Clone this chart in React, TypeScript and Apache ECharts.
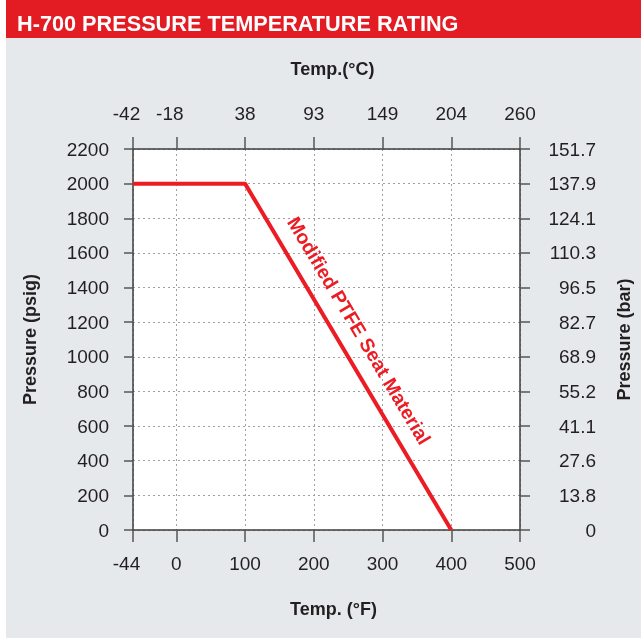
import React, { useEffect, useRef } from 'react';
import * as echarts from 'echarts';

// ---- data ----
const tempTicksF = [-44, 0, 100, 200, 300, 400, 500];
const tempLabelsF = ['-44', '0', '100', '200', '300', '400', '500'];
const tempLabelsC = ['-42', '-18', '38', '93', '149', '204', '260'];
const pressureMin = 0;
const pressureMax = 2200;
const pressureStep = 200;
const barLabels = ['0', '13.8', '27.6', '41.1', '55.2', '68.9', '82.7', '96.5', '110.3', '124.1', '137.9', '151.7'];
const seriesTempF = [-44, 100, 400];
const seriesPsig = [2000, 2000, 0];
const seriesName = 'Modified PTFE Seat Material';
const titleText = 'H-700 PRESSURE TEMPERATURE RATING';

// the range below 0°F is drawn stretched: -44°F sits at axis position -63
const AXIS_EDGE = -63;
const toAxis = (f: number) => (f < 0 ? (f * AXIS_EDGE) / tempTicksF[0] : f);
const tickPositions = tempTicksF.map(toAxis);
const idxOf = (v: number) => tickPositions.findIndex((p) => Math.abs(p - v) < 1e-6);

const FONT = '"Liberation Sans", Arial, Helvetica, sans-serif';
const TXT = '#231f20';
const RED = '#ec1c24';

const richNeg = {
  n: { fontFamily: FONT, fontSize: 19, color: TXT, padding: [0, 13, 0, 0] },
  p: { fontFamily: FONT, fontSize: 19, color: TXT },
};

export default function App() {
  const ref = useRef<HTMLDivElement>(null);
  useEffect(() => {
    if (!ref.current) return;
    const chart = echarts.init(ref.current, null, { renderer: 'svg' });
    const fmt = (labels: string[]) => (v: number) => {
      const i = idxOf(v);
      if (i < 0) return '';
      const s = labels[i];
      return s.startsWith('-') ? `{n|${s}}` : `{p|${s}}`;
    };
    const axisLine = { show: true, onZero: false, lineStyle: { color: '#3c3c3c', width: 1.5 } };
    const nameStyle = { fontFamily: FONT, fontSize: 18, fontWeight: 'bold', color: TXT };
    const option: any = {
      animation: false,
      textStyle: { fontFamily: FONT },
      title: {
        text: titleText,
        left: 12,
        top: 7,
        textStyle: { color: '#ffffff', fontSize: 21.7, fontWeight: 'bold', fontFamily: FONT },
      },
      graphic: [
        { id: 'bg', type: 'rect', z: -10, silent: true, shape: { x: 6, y: 37, width: 635, height: 601 }, style: { fill: '#e5e9ec' } },
        { id: 'bar', type: 'rect', z: -10, silent: true, shape: { x: 6, y: 0, width: 635, height: 38 }, style: { fill: '#e31b23' } },
      ],
      grid: { left: 133, right: 118, top: 149, bottom: 109, show: true, backgroundColor: '#ffffff', borderWidth: 0 },
      xAxis: [
        {
          type: 'value',
          position: 'bottom',
          min: AXIS_EDGE,
          max: 500,
          name: 'Temp. (°F)',
          nameLocation: 'middle',
          nameGap: 70,
          nameTextStyle: { ...nameStyle, padding: [0, 0, 0, 14] },
          axisLine,
          axisTick: { show: true, customValues: tickPositions, length: 12, lineStyle: { color: '#555', width: 1.5 } },
          axisLabel: { customValues: tickPositions, margin: 24, formatter: fmt(tempLabelsF), rich: richNeg },
          splitLine: { show: true, lineStyle: { color: '#a0a0a0', type: [2, 3], width: 1 } },
        },
        {
          type: 'value',
          position: 'top',
          min: AXIS_EDGE,
          max: 500,
          name: 'Temp.(°C)',
          nameLocation: 'middle',
          nameGap: 71,
          nameTextStyle: { ...nameStyle, padding: [0, 0, 0, 12] },
          axisLine,
          axisTick: { show: true, customValues: tickPositions, length: 12, lineStyle: { color: '#555', width: 1.5 } },
          axisLabel: { customValues: tickPositions, margin: 26, formatter: fmt(tempLabelsC), rich: richNeg },
          splitLine: { show: false },
        },
      ],
      yAxis: [
        {
          type: 'value',
          position: 'left',
          min: pressureMin,
          max: pressureMax,
          interval: pressureStep,
          name: 'Pressure (psig)',
          nameLocation: 'middle',
          nameRotate: 90,
          nameGap: 94,
          nameTextStyle: nameStyle,
          axisLine,
          axisTick: { show: true, length: 9, lineStyle: { color: '#555', width: 1.5 } },
          axisLabel: {
            margin: 24,
            fontFamily: FONT,
            fontSize: 19,
            color: TXT,
            formatter: (v: number) => String(v),
          },
          splitLine: { show: true, lineStyle: { color: '#a0a0a0', type: [2, 3], width: 1 } },
        },
        {
          type: 'value',
          position: 'right',
          min: pressureMin,
          max: pressureMax,
          interval: pressureStep,
          name: 'Pressure (bar)',
          nameLocation: 'middle',
          nameRotate: 90,
          nameGap: 95,
          nameTextStyle: nameStyle,
          axisLine,
          axisTick: { show: true, length: 10, lineStyle: { color: '#555', width: 1.5 } },
          axisLabel: {
            margin: 76,
            align: 'right',
            fontFamily: FONT,
            fontSize: 19,
            color: TXT,
            formatter: (v: number) => barLabels[Math.round((v - pressureMin) / pressureStep)] ?? '',
          },
          splitLine: { show: false },
        },
      ],
      series: [
        {
          name: seriesName,
          type: 'line',
          xAxisIndex: 0,
          yAxisIndex: 0,
          symbol: 'none',
          lineStyle: { color: RED, width: 4 },
          data: seriesTempF.map((f, i) => [toAxis(f), seriesPsig[i]]),
          z: 5,
        },
      ],
    };
    chart.setOption(option);

    // label along the falling segment
    let k = 0;
    for (let i = 0; i < seriesPsig.length - 1; i++) if (seriesPsig[i] > seriesPsig[i + 1]) { k = i; break; }
    const a = chart.convertToPixel({ seriesIndex: 0 }, [toAxis(seriesTempF[k]), seriesPsig[k]]) as number[];
    const b = chart.convertToPixel({ seriesIndex: 0 }, [toAxis(seriesTempF[k + 1]), seriesPsig[k + 1]]) as number[];
    if (a && b) {
      const dx = b[0] - a[0];
      const dy = b[1] - a[1];
      const len = Math.hypot(dx, dy);
      const t = 0.458;
      const off = 23;
      const cx = a[0] + dx * t + (dy / len) * off;
      const cy = a[1] + dy * t - (dx / len) * off;
      chart.setOption({
        graphic: [
          {
            id: 'note',
            type: 'text',
            x: cx,
            y: cy,
            rotation: -Math.atan2(dy, dx),
            z: 10,
            style: {
              text: seriesName,
              fill: RED,
              font: `bold 19.5px ${FONT}`,
              align: 'center',
              verticalAlign: 'middle',
            },
          },
        ],
      });
    }
    return () => chart.dispose();
  }, []);
  return <div ref={ref} style={{ position: 'fixed', left: 0, top: 0, width: 641, height: 639 }} />;
}
